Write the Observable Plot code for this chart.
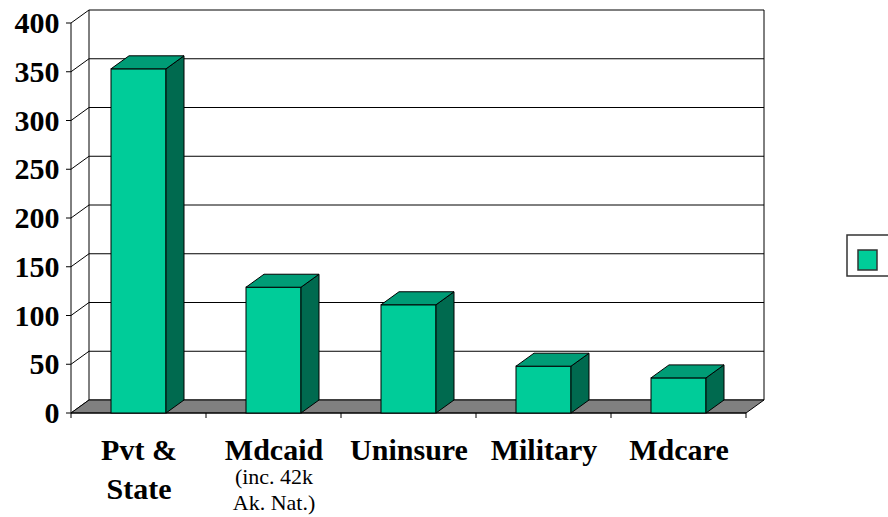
<!DOCTYPE html>
<html><head><meta charset="utf-8">
<script src="https://cdn.jsdelivr.net/npm/d3@7"></script>
<script src="https://cdn.jsdelivr.net/npm/@observablehq/plot@0.6"></script>
<style>
body{margin:0;background:#fff}
#chart{width:888px;height:517px;overflow:hidden}
</style>
</head><body><div id="chart"></div>
<script>
const categories = ["Pvt & State", "Mdcaid", "Uninsure", "Military", "Mdcare"];
const values = [353, 129, 111, 48, 36];
const mainLabels = ["Pvt &\nState", "Mdcaid", "Uninsure", "Military", "Mdcare"];
const subLabels = ["", "(inc. 42k\nAk. Nat.)", "", "", ""];
const yTicks = [0, 50, 100, 150, 200, 250, 300, 350, 400];

const data = categories.map((c, i) => ({category: c, value: values[i], label: mainLabels[i], sub: subLabels[i]}));

const DX = 18, DY = 13, INSET = 40;
const FRONT = "#00CC99", TOP = "#009C76", SIDE = "#006A4F", FLOOR = "#808080";
const SERIF = "Liberation Serif";

function path(g, pts, fill, stroke = "black", sw = 1) {
  g.append("path")
    .attr("d", "M" + pts.map(p => p.join(",")).join("L") + "Z")
    .attr("fill", fill).attr("stroke", stroke).attr("stroke-width", sw)
    .attr("stroke-linejoin", "round");
}
function line(g, a, b, sw = 1) {
  g.append("line").attr("x1", a[0]).attr("y1", a[1]).attr("x2", b[0]).attr("y2", b[1])
    .attr("stroke", "black").attr("stroke-width", sw);
}

// back wall, left wall, floor, axes
const walls = (index, scales) => {
  const {x, y} = scales;
  const dom = x.domain();
  const xa = x(dom[0]), xb = x(dom[dom.length - 1]) + x.bandwidth();
  const y0 = y(0), yTop = y(yTicks[yTicks.length - 1]);
  const g = d3.create("svg:g");
  for (const t of yTicks) {
    const yt = y(t);
    line(g, [xa + DX, yt - DY], [xb + DX, yt - DY]);
    line(g, [xa, yt], [xa + DX, yt - DY]);
    line(g, [xa - 5, yt], [xa, yt]);
  }
  line(g, [xa + DX, yTop - DY], [xa + DX, y0 - DY]);
  line(g, [xb + DX, yTop - DY], [xb + DX, y0 - DY]);
  path(g, [[xa, y0], [xb, y0], [xb + DX, y0 - DY], [xa + DX, y0 - DY]], FLOOR);
  line(g, [xa, yTop], [xa, y0]);
  line(g, [xa, y0], [xb, y0]);
  for (const c of dom) line(g, [x(c), y0], [x(c), y0 + 5]);
  line(g, [xb, y0], [xb, y0 + 5]);
  return g.node();
};

// top and side faces of each bar
const faces = (index, scales) => {
  const {x, y} = scales;
  const g = d3.create("svg:g");
  const y0 = y(0);
  for (const d of data) {
    const xl = x(d.category) + INSET, xr = x(d.category) + x.bandwidth() - INSET, yv = y(d.value);
    path(g, [[xr, yv], [xr + DX, yv - DY], [xr + DX, y0 - DY], [xr, y0]], SIDE);
    path(g, [[xl, yv], [xr, yv], [xr + DX, yv - DY], [xl + DX, yv - DY]], TOP);
  }
  return g.node();
};

// legend box at right
const legend = (index, scales, values, dimensions) => {
  const g = d3.create("svg:g");
  const w = dimensions.width;
  g.append("rect").attr("x", w - 41).attr("y", 235).attr("width", 60).attr("height", 41)
    .attr("fill", "white").attr("stroke", "#333").attr("stroke-width", 1.5);
  g.append("rect").attr("x", w - 30).attr("y", 250).attr("width", 19).attr("height", 20)
    .attr("fill", FRONT).attr("stroke", "#333").attr("stroke-width", 1.5);
  return g.node();
};

const chart = Plot.plot({
  width: 888,
  height: 517,
  marginLeft: 71,
  marginRight: 142,
  marginTop: 23,
  marginBottom: 104,
  style: {background: "white", overflow: "visible"},
  x: {domain: categories, padding: 0, axis: null},
  y: {domain: [0, 400], axis: null},
  marks: [
    walls,
    Plot.barY(data, {x: "category", y: "value", fill: FRONT, stroke: "black", strokeWidth: 1, insetLeft: INSET, insetRight: INSET}),
    faces,
    Plot.text(yTicks, {y: d => d, text: d => String(d), frameAnchor: "left", textAnchor: "end", dx: -12, fontSize: 30, fontWeight: "bold", fontFamily: SERIF, fill: "black"}),
    Plot.text(data, {x: "category", text: "label", frameAnchor: "bottom", lineAnchor: "top", dy: 18.5, lineHeight: 1.3, fontSize: 30, fontWeight: "bold", fontFamily: SERIF, fill: "black"}),
    Plot.text(data, {x: "category", text: "sub", frameAnchor: "bottom", lineAnchor: "top", dy: 51, lineHeight: 1.22, fontSize: 22, fontFamily: SERIF, fill: "black"}),
    legend
  ]
});
document.getElementById("chart").append(chart);
</script>
</body></html>
